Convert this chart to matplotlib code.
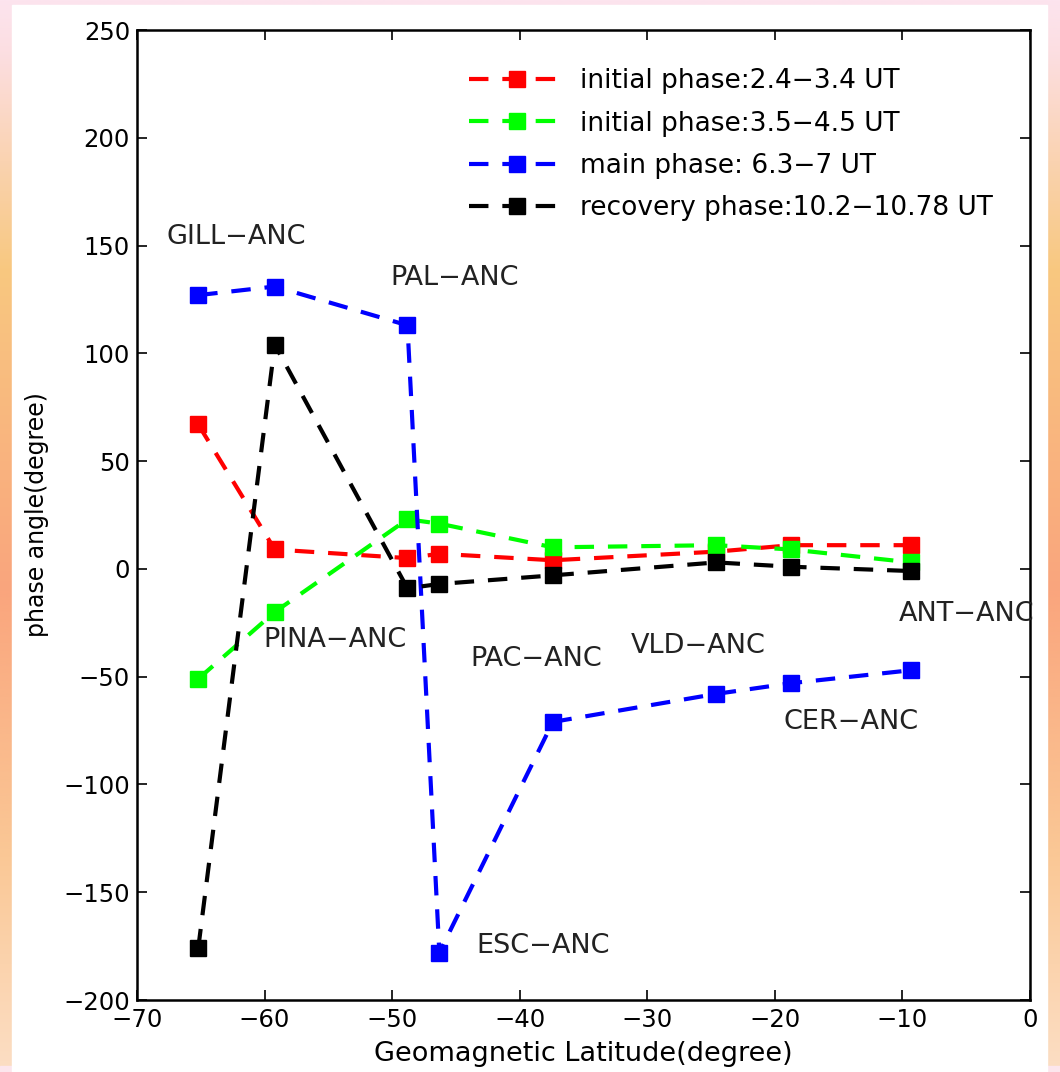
import numpy as np
import matplotlib
matplotlib.use("Agg")
import matplotlib.pyplot as plt
from matplotlib.patches import Rectangle

plt.rcParams['font.family'] = ['DejaVu Sans']
plt.rcParams['lines.scale_dashes'] = False

# geomagnetic latitude of stations
lat = [-65.2, -59.2, -48.8, -46.3, -37.4, -24.6, -18.7, -9.3]

red = [67, 9, 5, 7, 4, 8, 11, 11]
green = [-51, -20, 23, 21, 10, 11, 9, 3]
blue = [127, 131, 113, -178, -71, -58, -53, -47]
black = [-176, 104, -9, -7, -3, 3, 1, -1]

labels = ['initial phase:2.4\u22123.4 UT', 'initial phase:3.5\u22124.5 UT',
          'main phase: 6.3\u22127 UT', 'recovery phase:10.2\u221210.78 UT']
colors = ['#ff0000', '#00ff00', '#0000ff', '#000000']

stations = ['GILL\u2212ANC', 'PAL\u2212ANC', 'PINA\u2212ANC', 'PAC\u2212ANC',
            'VLD\u2212ANC', 'ANT\u2212ANC', 'CER\u2212ANC', 'ESC\u2212ANC']
station_x = [-62.2, -45.1, -54.5, -38.7, -26.0, -5.0, -14.0, -38.2]
station_y = [154, 135, -33, -42, -36, -21, -71, -175]

fig = plt.figure(figsize=(10.6, 10.72), dpi=100)

# gradient frame behind the white page
bg = fig.add_axes([0, 0, 1, 1], zorder=-10)
stops_y = [0.0, 0.05, 0.25, 0.55, 0.8, 1.0]
stops_c = np.array([[252, 228, 238], [252, 222, 225], [248, 200, 128],
                    [250, 165, 125], [250, 200, 150], [252, 222, 196]]) / 255.0
yy = np.linspace(0, 1, 400)
col = np.stack([np.interp(yy, stops_y, stops_c[:, i]) for i in range(3)], axis=1)
img = np.repeat(col[:, None, :], 2, axis=1)
bg.imshow(img, aspect='auto', extent=[0, 1, 1, 0])
bg.add_patch(Rectangle((0, 0), 1, 0.006, color=(0.99, 0.9, 0.93), transform=bg.transAxes))
bg.add_patch(Rectangle((12 / 1060, 0), (1047 - 12) / 1060, 1 - 5 / 1072,
                       color='white', transform=bg.transAxes))
bg.set_xlim(0, 1)
bg.set_ylim(1, 0)
bg.axis('off')

ax = fig.add_axes([137 / 1060, 1 - 1000 / 1072, (1030 - 137) / 1060, 970 / 1072])
for ys, c, lb in zip([red, green, blue, black], colors, labels):
    ax.plot(lat, ys, color=c, lw=3, linestyle=(0, (14, 10)), marker='s',
            markersize=11.5, markeredgecolor=c, label=lb)

for s, x, y in zip(stations, station_x, station_y):
    ax.text(x, y, s, fontsize=19.5, ha='center', va='center', color='#222222')

ax.set_xlim(-70, 0)
ax.set_ylim(-200, 250)
ax.set_xticks(np.arange(-70, 1, 10))
ax.set_yticks(np.arange(-200, 251, 50))
ax.tick_params(direction='in', length=7, width=1.2, labelsize=17.5, top=True, right=True)
ax.tick_params(axis='y', pad=5)
ax.tick_params(axis='x', pad=6)
for sp in ax.spines.values():
    sp.set_linewidth(1.8)
ax.set_xlabel('Geomagnetic Latitude(degree)', fontsize=19.5, labelpad=6)
ax.set_ylabel('phase angle(degree)', fontsize=17, labelpad=10)

leg = ax.legend(loc='upper right', bbox_to_anchor=(0.985, 0.985), frameon=False,
                fontsize=19, handlelength=3.6, labelspacing=0.62, handletextpad=0.6)

fig.savefig('out.png', dpi=100)
